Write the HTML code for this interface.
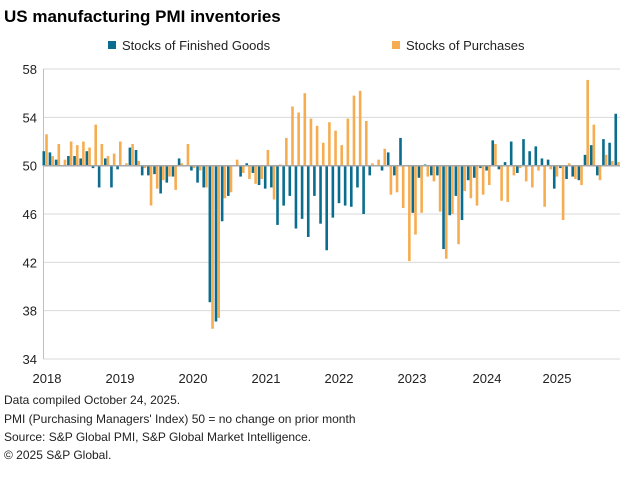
<!DOCTYPE html>
<html><head><meta charset="utf-8"><style>
body{margin:0;background:#fff;width:628px;height:472px;overflow:hidden;font-family:"Liberation Sans",Arial,sans-serif;}
</style></head><body>
<svg id="c" width="628" height="472" xmlns="http://www.w3.org/2000/svg" font-family="Liberation Sans, Arial, sans-serif">
<text x="4" y="22" font-size="17" font-weight="bold" fill="#000">US manufacturing PMI inventories</text>
<rect x="108" y="41" width="8" height="8" fill="#0b6d8e"/>
<text x="122" y="50" font-size="13" fill="#222">Stocks of Finished Goods</text>
<rect x="392" y="41" width="8" height="8" fill="#f6ad52"/>
<text x="406" y="50" font-size="13" fill="#222">Stocks of Purchases</text>
<g id="grid"></g>
<g id="bars"></g>
<g font-size="13" fill="#222" id="lbl"></g>
<text x="4" y="404" font-size="12" fill="#222">Data compiled October 24, 2025.</text>
<text x="4" y="423" font-size="12" fill="#222">PMI (Purchasing Managers' Index) 50 = no change on prior month</text>
<text x="4" y="441" font-size="12" fill="#222">Source: S&amp;P Global PMI, S&amp;P Global Market Intelligence.</text>
<text x="4" y="459" font-size="12" fill="#222">© 2025 S&amp;P Global.</text>
</svg>
<script>
var F=[51.2,51.1,50.5,50.0,50.8,50.8,50.6,51.2,49.8,48.2,50.6,48.2,49.7,50.0,51.5,51.3,49.2,49.2,49.3,47.7,48.6,49.1,50.6,50.0,49.6,48.6,48.2,38.7,37.1,45.4,47.5,50.0,49.1,50.2,49.4,48.4,48.1,48.2,45.1,46.7,47.5,44.8,45.6,44.1,47.5,45.2,43.0,45.7,46.9,46.7,46.6,48.2,46.0,49.2,50.0,49.6,51.1,49.2,52.3,50.0,46.1,49.0,50.1,49.2,49.2,43.1,45.9,47.5,45.5,48.8,49.0,49.8,49.6,52.1,49.7,50.3,52.0,49.4,52.2,51.2,51.6,50.6,50.5,48.1,49.8,48.9,49.1,48.8,50.9,51.7,49.2,52.2,51.9,54.3];
var P=[52.6,50.8,51.8,50.5,52.0,51.7,52.0,51.5,53.4,51.8,50.8,51.0,52.0,50.2,51.8,50.4,49.8,46.7,48.1,48.8,49.1,48.0,50.2,51.8,49.8,49.6,48.2,36.5,37.4,47.3,47.8,50.5,49.4,48.9,48.5,48.9,51.3,47.2,50.1,52.3,54.9,54.4,56.0,53.9,53.3,51.9,53.6,52.9,51.7,53.9,55.8,56.2,53.7,50.2,50.5,51.4,47.6,47.8,46.5,42.1,44.3,46.1,49.1,48.7,46.2,42.3,46.0,43.5,47.9,47.3,46.7,47.6,48.4,51.8,47.1,47.0,49.2,49.8,48.7,48.2,49.6,46.6,49.7,49.1,45.5,50.2,48.9,48.4,57.1,53.4,48.8,50.9,50.4,50.3];
function y(v){return 165.7-(v-50)*12.08;}
var ns="http://www.w3.org/2000/svg";
function el(p,t,a,txt){var e=document.createElementNS(ns,t);for(var k in a)e.setAttribute(k,a[k]);if(txt)e.textContent=txt;p.appendChild(e);return e;}
var g=document.getElementById('grid');
[58,54,46,42,38,34].forEach(function(v){el(g,'line',{x1:43,x2:620,y1:y(v),y2:y(v),stroke:'#d9d9d9','stroke-width':1});});
el(g,'line',{x1:43.5,x2:43.5,y1:y(58),y2:y(34),stroke:'#bfbfbf','stroke-width':1});
var b=document.getElementById('bars');
for(var i=0;i<F.length;i++){
 var x=42.5+6.15*i;
 var a=y(F[i]),z=y(50);
 el(b,'rect',{x:x,y:Math.min(a,z),width:2.6,height:Math.max(Math.abs(a-z),0.3),fill:'#0b6d8e'});
 a=y(P[i]);
 el(b,'rect',{x:x+2.7,y:Math.min(a,z),width:2.6,height:Math.max(Math.abs(a-z),0.3),fill:'#f6ad52'});
}
el(b,'line',{x1:43,x2:620,y1:y(50),y2:y(50),stroke:'#a6a6a6','stroke-width':1.5});
var l=document.getElementById('lbl');
[58,54,50,46,42,38,34].forEach(function(v){el(l,'text',{x:37,y:y(v)+5,'text-anchor':'end'},String(v));});
var yrs=[2018,2019,2020,2021,2022,2023,2024,2025],xs=[47,120,193,266,339,412,487,557];
yrs.forEach(function(v,k){el(l,'text',{x:xs[k],y:383,'text-anchor':'middle'},String(v));});
</script>
</body></html>
